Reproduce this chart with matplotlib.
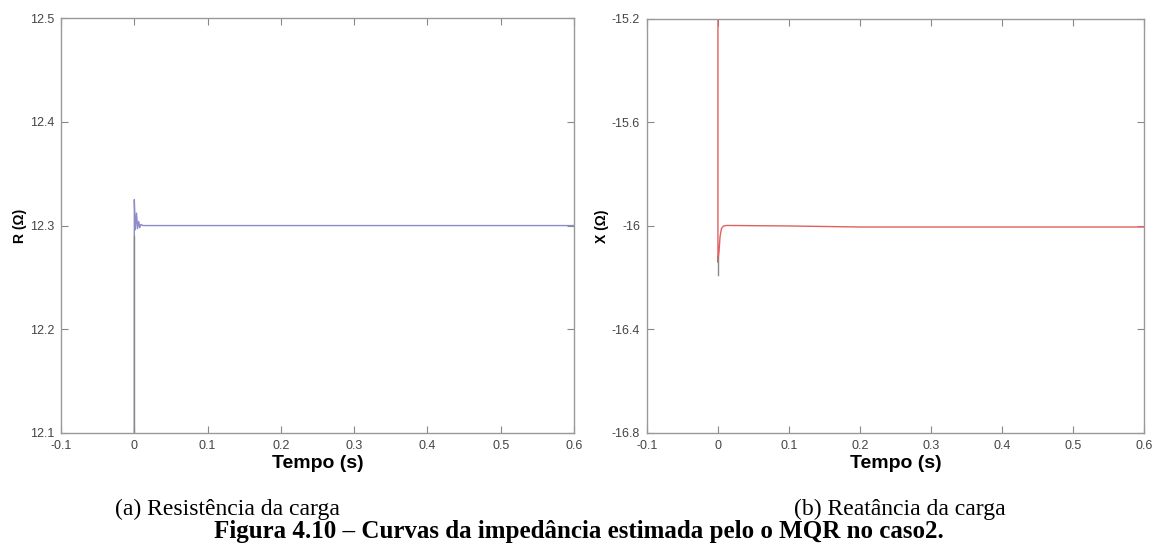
import matplotlib.pyplot as plt

plt.rcParams["font.family"] = ["Liberation Sans", "DejaVu Sans"]

# resistance estimate (ohm) vs time (s)
t_r = [0.0, 0.0, 0.0015, 0.003, 0.0045, 0.006, 0.0075, 0.009, 0.012, 0.6]
r_est = [12.0, 12.325, 12.296, 12.312, 12.297, 12.304, 12.298, 12.301, 12.300, 12.300]

# reactance estimate (ohm) vs time (s)
t_x = [0.0, 0.0, 0.0015, 0.003, 0.005, 0.008, 0.012, 0.1, 0.2, 0.6]
x_est = [-15.0, -16.14, -16.10, -16.04, -16.01, -16.0, -15.998, -16.0, -16.004, -16.004]

r_ticks = [12.1, 12.2, 12.3, 12.4, 12.5]
x_ticks = [-16.8, -16.4, -16.0, -15.6, -15.2]
t_ticks = [-0.1, 0, 0.1, 0.2, 0.3, 0.4, 0.5, 0.6]
t_labels = ["-0.1", "0", "0.1", "0.2", "0.3", "0.4", "0.5", "0.6"]

fig = plt.figure(figsize=(11.58, 5.48), dpi=100)
ax1 = fig.add_axes([0.0527, 0.2099, 0.443, 0.757])
ax2 = fig.add_axes([0.5587, 0.2099, 0.429, 0.7555])

ax1.plot(t_r, r_est, color="#8c8cc8", linewidth=1.0)
ax1.plot([0, 0], [12.0, 12.29], color="#888888", linewidth=1.0)
ax2.plot(t_x, x_est, color="#e06060", linewidth=1.0)
ax2.plot([0, 0], [-16.12, -16.19], color="#888888", linewidth=1.0)

for ax, yt, ylab in [(ax1, r_ticks, "R (\u03a9)"), (ax2, x_ticks, "X (\u03a9)")]:
    ax.set_xlim(-0.1, 0.6)
    ax.set_ylim(yt[0], yt[-1])
    ax.set_xticks(t_ticks)
    ax.set_xticklabels(t_labels)
    ax.set_yticks(yt)
    ax.set_yticklabels(["%g" % v for v in yt])
    ax.tick_params(direction="in", top=True, right=True, length=5, width=0.8,
                   color="#888888", labelsize=9, labelcolor="#444444", pad=5)
    for s in ax.spines.values():
        s.set_color("#999999")
        s.set_linewidth(1.0)
    ax.set_xlabel("Tempo (s)", fontsize=14, fontweight="bold", labelpad=2)
    ax.set_ylabel(ylab, fontsize=10, fontweight="bold", labelpad=2)

fig.text(0.099, 0.071, "(a) Resist\u00eancia da carga", fontsize=17,
         family="Liberation Serif", ha="left", va="center")
fig.text(0.686, 0.071, "(b) Reat\u00e2ncia da carga", fontsize=17,
         family="Liberation Serif", ha="left", va="center")
fig.text(0.50, 0.031, "Figura 4.10 \u2013 Curvas da imped\u00e2ncia estimada pelo o MQR no caso2.",
         fontsize=18, family="Liberation Serif", fontweight="bold",
         ha="center", va="center")

fig.savefig("out.png", dpi=100)
